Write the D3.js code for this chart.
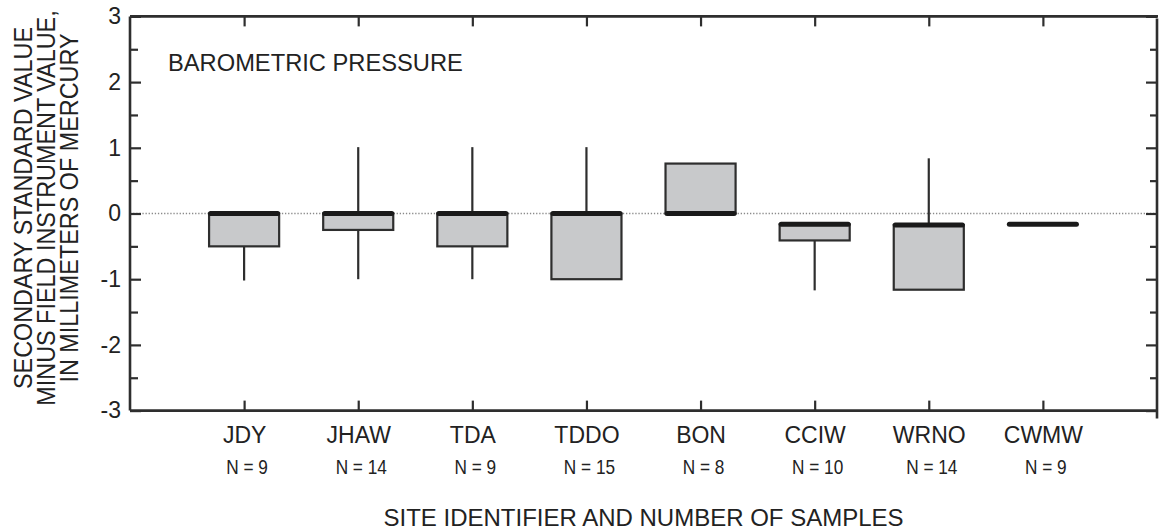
<!DOCTYPE html>
<html>
<head>
<meta charset="utf-8">
<script src="https://cdn.jsdelivr.net/npm/d3@7"></script>
<style>
  body { margin: 0; background: #fff; }
  svg { display: block; font-family: "Liberation Sans", Arial, Helvetica, sans-serif; }
  .axis text { fill: #222; }
</style>
</head>
<body>
<svg id="chart" width="1164" height="531"></svg>
<script>
// Site identifiers and number of samples
const sites = ['JDY', 'JHAW', 'TDA', 'TDDO', 'BON', 'CCIW', 'WRNO', 'CWMW'];
const counts = [9, 14, 9, 15, 8, 10, 14, 9];

// Box plot values, millimeters of mercury
const boxLow = [-0.5, -0.25, -0.5, -1.0, 0, -0.41, -1.16, -0.165];
const boxHigh = [0, 0, 0, 0, 0.76, -0.165, -0.175, -0.165];
const medians = [0, 0, 0, 0, 0, -0.165, -0.175, -0.165];
const whiskerLow = [-1.02, -1.0, -1.0, -1.0, 0, -1.17, -1.16, -0.165];
const whiskerHigh = [0, 1.01, 1.01, 1.01, 0.76, -0.165, 0.84, -0.165];

const yMajor = [-3, -2, -1, 0, 1, 2, 3];
const yMinor = [-2.5, -1.5, -0.5, 0.5, 1.5, 2.5];

const margin = { top: 16.4, right: 7, bottom: 120.4, left: 130 };
const svg = d3.select('#chart');
const width = +svg.attr('width') - margin.left - margin.right;
const height = +svg.attr('height') - margin.top - margin.bottom;

const chart = svg.append('g')
  .attr('transform', `translate(${margin.left},${margin.top})`);

const x = d3.scaleLinear().domain([0, sites.length + 1]).range([0, width]);
const y = d3.scaleLinear().domain([-3, 3]).range([height, 0]);

const data = sites.map((s, i) => ({
  site: s, n: counts[i], pos: i + 1,
  lo: boxLow[i], hi: boxHigh[i], med: medians[i],
  wlo: whiskerLow[i], whi: whiskerHigh[i]
}));

const ink = '#2e2e2e';
const halfBox = (x(1) - x(0)) * 0.307;

// zero reference line
chart.append('line')
  .attr('x1', 0).attr('x2', width)
  .attr('y1', y(0)).attr('y2', y(0))
  .attr('stroke', '#8a8a8a')
  .attr('stroke-width', 1.3)
  .attr('stroke-dasharray', '1.3,1.8');

// axes
const left = chart.append('g').attr('class', 'axis')
  .call(d3.axisLeft(y).tickValues(yMajor).tickSizeInner(-11).tickSizeOuter(0).tickPadding(9)
    .tickFormat(d => String(d)));
left.selectAll('text').style('font-size', '23px');

chart.append('g').attr('class', 'axis')
  .call(d3.axisLeft(y).tickValues(yMinor).tickSizeInner(-8).tickSizeOuter(0).tickFormat(''));

chart.append('g').attr('class', 'axis')
  .attr('transform', `translate(${width},0)`)
  .call(d3.axisRight(y).tickValues(yMajor).tickSizeInner(-11).tickSizeOuter(0).tickFormat(''));

chart.append('g').attr('class', 'axis')
  .attr('transform', `translate(${width},0)`)
  .call(d3.axisRight(y).tickValues(yMinor).tickSizeInner(-7).tickSizeOuter(0).tickFormat(''));

const bottom = chart.append('g').attr('class', 'axis')
  .attr('transform', `translate(0,${height})`)
  .call(d3.axisBottom(x).tickValues(data.map(d => d.pos))
    .tickSizeInner(-10).tickSizeOuter(0).tickPadding(16)
    .tickFormat((d, i) => sites[i]));
bottom.selectAll('text').style('font-size', '23px');

chart.append('g').attr('class', 'axis')
  .call(d3.axisTop(x).tickValues(data.map(d => d.pos))
    .tickSizeInner(-10).tickSizeOuter(0).tickFormat(''));

chart.selectAll('.axis .domain').remove();
chart.selectAll('.axis line').attr('stroke', ink).attr('stroke-width', 2.2);

// frame
const frame = chart.append('g')
  .attr('stroke', ink).attr('stroke-width', 2.6).attr('fill', 'none');
frame.append('line').attr('x1', 0).attr('x2', width + 1).attr('y1', 0).attr('y2', 0);
frame.append('line').attr('x1', 0).attr('x2', width).attr('y1', height).attr('y2', height);
frame.append('line').attr('x1', 0).attr('x2', 0).attr('y1', 0).attr('y2', height);
frame.append('line').attr('x1', width).attr('x2', width).attr('y1', 2).attr('y2', height + 8);

// sample counts
chart.append('g').selectAll('text')
  .data(data).join('text')
  .attr('transform', d => `translate(${x(d.pos) + 3},${height + 63}) scale(0.82,1)`)
  .attr('text-anchor', 'middle')
  .style('font-size', '21px')
  .attr('fill', '#222')
  .text(d => `N = ${d.n}`);

// boxes
const boxes = chart.append('g').selectAll('g')
  .data(data).join('g');

boxes.append('line')
  .attr('x1', d => x(d.pos)).attr('x2', d => x(d.pos))
  .attr('y1', d => y(d.whi)).attr('y2', d => y(d.hi))
  .attr('stroke', ink).attr('stroke-width', 2.2);

boxes.append('line')
  .attr('x1', d => x(d.pos)).attr('x2', d => x(d.pos))
  .attr('y1', d => y(d.lo)).attr('y2', d => y(d.wlo))
  .attr('stroke', ink).attr('stroke-width', 2.2);

boxes.filter(d => d.hi - d.lo > 0.01).append('rect')
  .attr('x', d => x(d.pos) - halfBox)
  .attr('width', halfBox * 2)
  .attr('y', d => y(d.hi))
  .attr('height', d => y(d.lo) - y(d.hi))
  .attr('fill', '#c8c9cb')
  .attr('stroke', ink)
  .attr('stroke-width', 2.2);

boxes.append('line')
  .attr('x1', d => x(d.pos) - halfBox + 1.5).attr('x2', d => x(d.pos) + halfBox - 1.5)
  .attr('y1', d => y(d.med)).attr('y2', d => y(d.med))
  .attr('stroke', '#1a1a1a').attr('stroke-width', 5)
  .attr('stroke-linecap', 'round');

// panel title
chart.append('text')
  .attr('x', 38).attr('y', 55)
  .style('font-size', '23.7px')
  .attr('fill', '#222')
  .text('BAROMETRIC PRESSURE');

// x axis title
svg.append('text')
  .attr('x', margin.left + width / 2).attr('y', 526)
  .attr('text-anchor', 'middle')
  .style('font-size', '24px')
  .attr('fill', '#222')
  .text('SITE IDENTIFIER AND NUMBER OF SAMPLES');

// y axis title
const yTitle = ['SECONDARY STANDARD VALUE', 'MINUS FIELD INSTRUMENT VALUE,', 'IN MILLIMETERS OF MERCURY'];
svg.append('g').selectAll('text')
  .data(yTitle).join('text')
  .attr('transform', (d, i) => `translate(${32 + i * 23},208) rotate(-90) scale(0.9,1)`)
  .attr('text-anchor', 'middle')
  .style('font-size', '26px')
  .attr('fill', '#222')
  .text(d => d);
</script>
</body>
</html>
